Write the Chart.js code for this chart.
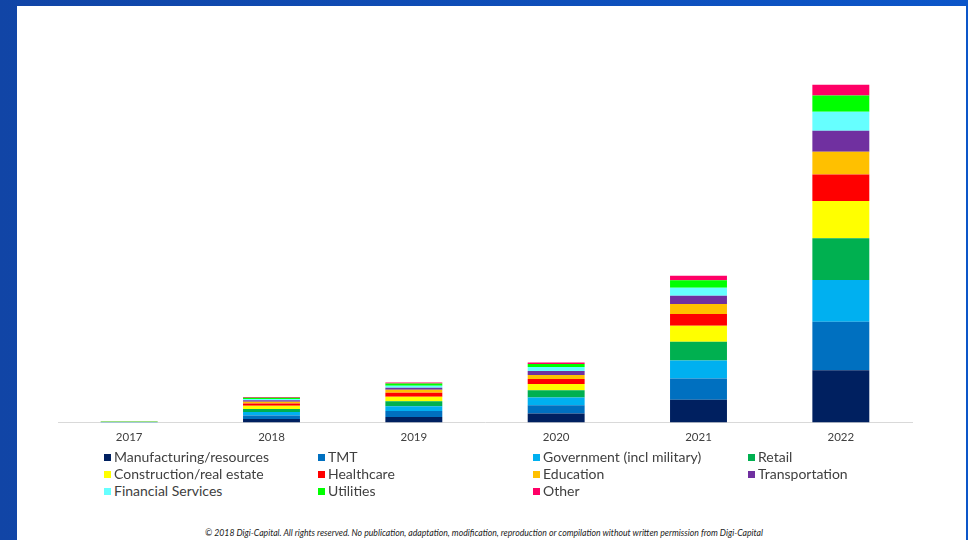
<!DOCTYPE html>
<html>
<head>
<meta charset="utf-8">
<script src="https://cdn.jsdelivr.net/npm/chart.js@4"></script>
<style>
  html, body { margin: 0; padding: 0; }
  body {
    width: 968px; height: 540px; overflow: hidden; position: relative;
    background: linear-gradient(to right, #1145a6, #0c56c9);
    font-family: Lato, "Open Sans", sans-serif;
  }
  #panel {
    position: absolute; left: 17px; top: 6px; width: 949px; height: 534px;
    background: #fff;
  }
  #chartBox { position: absolute; left: 0; top: 0; width: 968px; height: 458px; }
  #legend { position: absolute; left: 0; top: 0; width: 968px; }
  .leg-item {
    position: absolute; font-size: 14px; color: #404040; white-space: nowrap;
    line-height: 16px;
  }
  .leg-box {
    position: absolute; width: 7px; height: 7px; top: 5px;
  }
  #note {
    position: absolute; left: 0; width: 968px; top: 527px; text-align: center;
    font-size: 8.7px; font-style: italic; color: #222;
  }
</style>
</head>
<body>
<div id="panel"></div>
<div id="chartBox"><canvas id="chart" width="968" height="458"></canvas></div>
<div id="legend"></div>
<div id="note">© 2018 Digi-Capital. All rights reserved. No publication, adaptation, modification, reproduction or compilation without written permission from Digi-Capital</div>
<script>
const years = ["2017", "2018", "2019", "2020", "2021", "2022"];

const seriesNames = [
  "Manufacturing/resources", "TMT", "Government (incl military)", "Retail",
  "Construction/real estate", "Healthcare", "Education", "Transportation",
  "Financial Services", "Utilities", "Other"
];
const seriesColors = [
  "#002060", "#0070C0", "#00B0F0", "#00B050",
  "#FFFF00", "#FF0000", "#FFC000", "#7030A0",
  "#66FFFF", "#00FF00", "#FF0066"
];

// values (relative units)
const manufacturing  = [0.20, 3.7, 5.7, 9.0, 22.7, 52.3];
const tmt            = [0.15, 3.3, 6.0, 8.3, 21.3, 48.3];
const government     = [0.15, 3.5, 4.7, 7.7, 18.0, 41.7];
const retail         = [0.25, 3.2, 5.0, 7.3, 18.7, 41.7];
const construction   = [0.10, 3.0, 4.3, 6.3, 16.0, 37.3];
const healthcare     = [0.10, 2.3, 4.0, 5.0, 11.7, 26.3];
const education      = [0.08, 1.8, 3.0, 4.0, 10.0, 22.7];
const transportation = [0.07, 1.5, 2.0, 4.0, 8.3, 21.0];
const financial      = [0.07, 1.3, 2.0, 4.0, 8.0, 19.0];
const utilities      = [0.07, 1.2, 2.3, 3.0, 7.3, 16.3];
const other          = [0.05, 0.7, 1.0, 1.4, 4.7, 10.7];

const seriesValues = [manufacturing, tmt, government, retail, construction,
  healthcare, education, transportation, financial, utilities, other];

const datasets = seriesNames.map((name, i) => ({
  label: name,
  data: seriesValues[i],
  backgroundColor: seriesColors[i],
  borderWidth: 0,
  barPercentage: 0.4,
  categoryPercentage: 1.0,
}));

new Chart(document.getElementById("chart"), {
  type: "bar",
  data: { labels: years, datasets },
  options: {
    responsive: false,
    animation: false,
    devicePixelRatio: 1,
    layout: { padding: { left: 58, right: 56, top: 72, bottom: 5.6 } },
    plugins: { legend: { display: false }, tooltip: { enabled: false } },
    scales: {
      x: {
        stacked: true,
        grid: { display: false, drawTicks: false },
        border: { display: true, color: "#d9d9d9", width: 1 },
        ticks: { color: "#404040", padding: 8, font: { family: "Lato", size: 11.5 } },
      },
      y: {
        stacked: true,
        display: false,
        min: 0,
        max: 350,
      },
    },
  },
});

// legend laid out in four columns like the original
const legend = document.getElementById("legend");
const colX = [104, 318, 533, 748];
const rowY = [449, 466, 483];
seriesNames.forEach((name, i) => {
  const item = document.createElement("div");
  item.className = "leg-item";
  item.style.left = colX[i % 4] + "px";
  item.style.top = rowY[Math.floor(i / 4)] + "px";
  item.innerHTML = `<span class="leg-box" style="left:0;background:${seriesColors[i]}"></span><span style="margin-left:10px">${name}</span>`;
  legend.appendChild(item);
});
</script>
</body>
</html>
